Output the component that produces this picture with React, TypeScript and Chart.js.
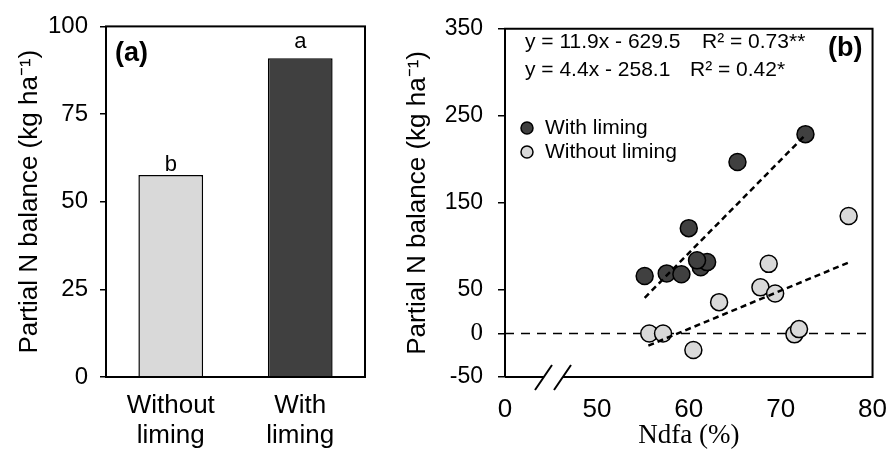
import React, { useEffect, useRef } from "react";
import { Chart, registerables } from "chart.js";
Chart.register(...registerables);

// ---------- Panel (a) data ----------
const barCategories = [["Without", "liming"], ["With", "liming"]];
const barValues = [57.6, 90.9];
const barLetters = ["b", "a"];
const barTicks = [0, 25, 50, 75, 100];

// ---------- Panel (b) data ----------
const withLimingX = [55.2, 57.6, 59.2, 61.3, 62.0, 60.9, 60.0, 65.3, 72.7];
const withLimingY = [66, 69, 68, 76, 82, 84, 121, 197, 229];
const withoutLimingX = [55.7, 57.2, 60.5, 63.3, 67.8, 69.4, 68.7, 71.5, 72.0, 77.4];
const withoutLimingY = [0, 0, -19, 36, 53, 46, 80, -1, 5, 135];
const trendWithX = [55.2, 72.6];
const trendWithY = [41, 227];
const trendWithoutX = [55.6, 77.5];
const trendWithoutY = [-14, 82];
const zeroLineX = [40, 80];
const zeroLineY = [0, 0];
const scatterYTicks = [-50, 0, 50, 150, 250, 350];
const scatterXTicks = [40, 50, 60, 70, 80];
const scatterXTickLabels = ["0", "50", "60", "70", "80"];
const equations = ["y = 11.9x - 629.5", "y = 4.4x - 258.1"];
const rSquared = ["R² = 0.73**", "R² = 0.42*"];
const legendLabels = ["With liming", "Without liming"];

const SANS = "'Liberation Sans', Arial, sans-serif";
const SERIF = "'Liberation Serif', 'Times New Roman', serif";
const DARK = "#404040";
const LIGHT = "#d9d9d9";

const toPts = (xs: number[], ys: number[]) => xs.map((x, i) => ({ x, y: ys[i] }));

export default function App() {
  const refA = useRef<HTMLCanvasElement>(null);
  const refB = useRef<HTMLCanvasElement>(null);

  useEffect(() => {
    Chart.defaults.font.family = SANS;
    Chart.defaults.color = "#000";

    const panelAPlugin = {
      id: "panelA",
      afterDraw(chart: any) {
        const { ctx, chartArea: ca, scales } = chart;
        ctx.save();
        ctx.strokeStyle = "#000";
        ctx.lineWidth = 2;
        ctx.strokeRect(ca.left, ca.top, ca.right - ca.left, ca.bottom - ca.top);
        ctx.fillStyle = "#000";
        ctx.font = `bold 27px ${SANS}`;
        ctx.textAlign = "left";
        ctx.textBaseline = "middle";
        ctx.fillText("(a)", ca.left + 9, ca.top + 27);
        ctx.font = `22px ${SANS}`;
        ctx.textAlign = "center";
        ctx.textBaseline = "alphabetic";
        const offs = [4, 10];
        barLetters.forEach((l, i) => {
          const x = scales.x.getPixelForValue(i);
          const y = scales.y.getPixelForValue(barValues[i]) - offs[i];
          ctx.fillText(l, x, y);
        });
        ctx.restore();
      },
    };

    const a = new Chart(refA.current!, {
      type: "bar",
      data: {
        labels: barCategories as any,
        datasets: [
          {
            data: barValues,
            backgroundColor: [LIGHT, DARK],
            borderColor: "#000",
            borderWidth: 1.5,
            categoryPercentage: 1,
            barPercentage: 0.5,
          },
        ],
      },
      options: {
        animation: false,
        responsive: false,
        layout: { padding: { top: 21, right: 20, left: 0, bottom: 0 } },
        plugins: { legend: { display: false }, tooltip: { enabled: false } },
        scales: {
          x: {
            grid: { display: false },
            border: { display: false },
            ticks: {
              font: { size: 26, lineHeight: 1.15, family: SANS },
              padding: 6,
              color: "#000",
              maxRotation: 0,
            },
            afterFit: (s: any) => {
              s.height = 75;
            },
          },
          y: {
            min: 0,
            max: 100,
            afterBuildTicks: (s: any) => {
              s.ticks = barTicks.map((v) => ({ value: v }));
            },
            grid: {
              display: true,
              drawOnChartArea: false,
              drawTicks: true,
              tickLength: 6,
              color: "#000",
              lineWidth: 1.5,
            },
            border: { display: false },
            ticks: { font: { size: 24, family: SANS }, padding: 12, color: "#000" },
            title: {
              display: true,
              text: "Partial N balance (kg ha⁻¹)",
              font: { size: 26, family: SANS },
              color: "#000",
              padding: { top: 14, bottom: 0 },
            },
            afterFit: (s: any) => {
              s.width = 106;
            },
          },
        },
      },
      plugins: [panelAPlugin],
    } as any);

    const panelBPlugin = {
      id: "panelB",
      afterDraw(chart: any) {
        const { ctx, chartArea: ca } = chart;
        ctx.save();
        ctx.strokeStyle = "#000";
        ctx.lineWidth = 2;
        // box with broken bottom axis
        ctx.beginPath();
        ctx.moveTo(ca.left, ca.bottom);
        ctx.lineTo(ca.left, ca.top);
        ctx.lineTo(ca.right, ca.top);
        ctx.lineTo(ca.right, ca.bottom);
        ctx.lineTo(ca.left + 58, ca.bottom);
        ctx.moveTo(ca.left + 39, ca.bottom);
        ctx.lineTo(ca.left, ca.bottom);
        ctx.stroke();
        // break marks
        ctx.beginPath();
        ctx.moveTo(ca.left + 30, ca.bottom + 13);
        ctx.lineTo(ca.left + 47, ca.bottom - 12);
        ctx.moveTo(ca.left + 49, ca.bottom + 13);
        ctx.lineTo(ca.left + 66, ca.bottom - 12);
        ctx.stroke();

        // equations
        ctx.fillStyle = "#000";
        ctx.font = `21px ${SANS}`;
        ctx.textAlign = "left";
        ctx.textBaseline = "middle";
        const eqY = [42, 70];
        const rX = [ca.left + 197, ca.left + 185];
        equations.forEach((e, i) => {
          ctx.fillText(e, ca.left + 20, eqY[i]);
          ctx.fillText(rSquared[i], rX[i], eqY[i]);
        });

        // (b)
        ctx.font = `bold 27px ${SANS}`;
        ctx.textAlign = "right";
        ctx.fillText("(b)", ca.right - 10, 49);

        // legend
        const fills = [DARK, LIGHT];
        const ly = [128, 152];
        ctx.font = `21px ${SANS}`;
        ctx.textAlign = "left";
        legendLabels.forEach((l, i) => {
          ctx.beginPath();
          ctx.arc(ca.left + 22, ly[i], 6, 0, Math.PI * 2);
          ctx.fillStyle = fills[i];
          ctx.fill();
          ctx.lineWidth = 1.5;
          ctx.strokeStyle = "#000";
          ctx.stroke();
          ctx.fillStyle = "#000";
          ctx.fillText(l, ca.left + 40, ly[i]);
        });
        ctx.restore();
      },
    };

    const b = new Chart(refB.current!, {
      type: "scatter",
      data: {
        datasets: [
          {
            label: "Trend with liming",
            data: toPts(trendWithX, trendWithY),
            showLine: true,
            borderColor: "#000",
            borderWidth: 2.5,
            borderDash: [6, 4],
            pointRadius: 0,
            order: 0,
          },
          {
            label: "Trend without liming",
            data: toPts(trendWithoutX, trendWithoutY),
            showLine: true,
            borderColor: "#000",
            borderWidth: 2.5,
            borderDash: [6, 4],
            pointRadius: 0,
            order: 0,
          },
          {
            label: "Without liming",
            data: toPts(withoutLimingX, withoutLimingY),
            backgroundColor: LIGHT,
            borderColor: "#000",
            borderWidth: 1.5,
            pointRadius: 8.5,
            order: 1,
          },
          {
            label: "With liming",
            data: toPts(withLimingX, withLimingY),
            backgroundColor: DARK,
            borderColor: "#000",
            borderWidth: 1.5,
            pointRadius: 8.5,
            order: 1,
          },
          {
            label: "Zero",
            data: toPts(zeroLineX, zeroLineY),
            showLine: true,
            borderColor: "#000",
            borderWidth: 1.5,
            borderDash: [9, 7],
            pointRadius: 0,
            order: 2,
          },
        ],
      },
      options: {
        animation: false,
        responsive: false,
        layout: { padding: { top: 21, right: 19, left: 0, bottom: 0 } },
        plugins: { legend: { display: false }, tooltip: { enabled: false } },
        scales: {
          x: {
            type: "linear",
            min: 40,
            max: 80,
            afterBuildTicks: (s: any) => {
              s.ticks = scatterXTicks.map((v) => ({ value: v }));
            },
            grid: { display: false },
            border: { display: false },
            ticks: {
              font: { size: 26, family: SANS },
              padding: 9,
              color: "#000",
              autoSkip: false,
              maxRotation: 0,
              callback: (_v: any, i: number) => scatterXTickLabels[i],
            },
            title: {
              display: true,
              text: "Ndfa (%)",
              font: { size: 27, family: SERIF },
              color: "#000",
              padding: { top: 0, bottom: 0 },
            },
            afterFit: (s: any) => {
              s.height = 75;
            },
          },
          y: {
            type: "linear",
            min: -50,
            max: 350,
            afterBuildTicks: (s: any) => {
              s.ticks = scatterYTicks.map((v) => ({ value: v }));
            },
            grid: {
              display: true,
              drawOnChartArea: false,
              drawTicks: true,
              tickLength: 7,
              color: "#000",
              lineWidth: 1.5,
            },
            border: { display: false },
            ticks: {
              font: (c: any) =>
                c.tick && c.tick.value === 0
                  ? { size: 25, family: SERIF }
                  : { size: 23, family: SANS },
              padding: 15,
              color: "#000",
              autoSkip: false,
            },
            title: {
              display: true,
              text: "Partial N balance (kg ha⁻¹)",
              font: { size: 26, family: SANS },
              color: "#000",
              padding: { top: 22, bottom: 0 },
            },
            afterFit: (s: any) => {
              s.width = 125;
            },
          },
        },
      },
      plugins: [panelBPlugin],
    } as any);

    return () => {
      a.destroy();
      b.destroy();
    };
  }, []);

  return (
    <div style={{ position: "absolute", left: 0, top: 0, width: 896, height: 452, background: "#fff" }}>
      <canvas
        ref={refA}
        width={385}
        height={452}
        style={{ position: "absolute", left: 0, top: 0, width: 385, height: 452 }}
      />
      <canvas
        ref={refB}
        width={516}
        height={452}
        style={{ position: "absolute", left: 380, top: 0, width: 516, height: 452 }}
      />
    </div>
  );
}
